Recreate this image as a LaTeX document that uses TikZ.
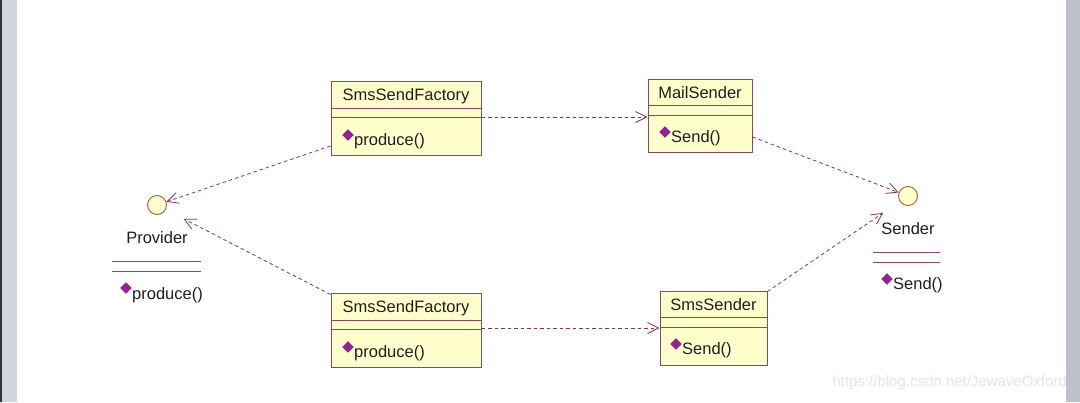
\documentclass[tikz,border=0pt]{standalone}
\usepackage{fontspec}
\setmainfont{Liberation Sans}
\usetikzlibrary{arrows.meta,calc}
\definecolor{boxfill}{HTML}{FFFFCC}
\definecolor{boxline}{HTML}{8A4A58}
\definecolor{dep}{HTML}{8A2D60}
\definecolor{opmark}{HTML}{9A1E9A}
\definecolor{strip}{HTML}{D3D6DE}
\definecolor{txt}{HTML}{1E1E1E}
\tikzset{
  cls/.style={draw=boxline, fill=boxfill, line width=1pt, inner sep=0pt},
  ifc/.style={circle, draw=boxline!70!orange, fill=boxfill, line width=0.9pt, minimum size=19pt, inner sep=0pt},
  divline/.style={draw=boxline, line width=1pt},
  lbl/.style={text=txt, font=\fontsize{16.5}{19}\selectfont, inner sep=0pt},
  oplbl/.style={lbl, anchor=west},
  opmk/.style={fill=opmark, draw=opmark!70!black, line width=0.3pt, rotate=45, minimum size=7.5pt, inner sep=0pt},
  depend/.style={draw=dep, line width=0.8pt, dash pattern=on 3.5pt off 3pt, -{Straight Barb[length=11pt,width=11pt,line width=0.8pt]}},
}
\begin{document}
\begin{tikzpicture}[x=1pt,y=-1pt]
\useasboundingbox (0,0) rectangle (1080,402);
\fill[white] (0,0) rectangle (1080,402);
% window strips
\fill[strip] (0,0) rectangle (17,402);
\fill[black!80] (0,0) rectangle (1.5,402);
\fill[strip!90!black] (1066,0) rectangle (1080,402);

% classes
\node[cls, minimum width=150pt, minimum height=74pt] (b1) at (406,118) {};
\node[cls, minimum width=104pt, minimum height=73pt] (b2) at (700,115.5) {};
\node[cls, minimum width=150pt, minimum height=74pt] (b3) at (406,330) {};
\node[cls, minimum width=107pt, minimum height=74pt] (b4) at (713.5,328) {};

\draw[divline] ($(b1.north west)+(0,28)$) -- ($(b1.north east)+(0,28)$);
\draw[divline] ($(b1.north west)+(0,37)$) -- ($(b1.north east)+(0,37)$);
\draw[divline] ($(b2.north west)+(0,27)$) -- ($(b2.north east)+(0,27)$);
\draw[divline] ($(b2.north west)+(0,37)$) -- ($(b2.north east)+(0,37)$);
\draw[divline] ($(b3.north west)+(0,28)$) -- ($(b3.north east)+(0,28)$);
\draw[divline] ($(b3.north west)+(0,37)$) -- ($(b3.north east)+(0,37)$);
\draw[divline] ($(b4.north west)+(0,27)$) -- ($(b4.north east)+(0,27)$);
\draw[divline] ($(b4.north west)+(0,37)$) -- ($(b4.north east)+(0,37)$);

\node[lbl] (t1) at (406,96) {SmsSendFactory};
\node[lbl] (t2) at (700,93) {MailSender};
\node[lbl] (t3) at (406,308) {SmsSendFactory};
\node[lbl] (t4) at (713.5,305) {SmsSender};

\node[opmk] (m1) at (348,135) {};
\node[oplbl] (o1) at (354,141) {produce()};
\node[opmk] (m2) at (665,132) {};
\node[oplbl] (o2) at (671,138) {Send()};
\node[opmk] (m3) at (348,347) {};
\node[oplbl] (o3) at (354,353) {produce()};
\node[opmk] (m4) at (676,344) {};
\node[oplbl] (o4) at (682,350) {Send()};

% interfaces
\node[ifc] (prov) at (157,205) {};
\node[lbl] (pl) at (157,238) {Provider};
\draw[divline] (112,261) coordinate (p1a) -- (201,261) coordinate (p1b);
\draw[divline] (112,271) coordinate (p2a) -- (201,271) coordinate (p2b);
\node[opmk] (pm) at (126,288) {};
\node[oplbl] (po) at (132,295) {produce()};

\node[ifc] (send) at (908,196) {};
\node[lbl] (sl) at (908,229) {Sender};
\draw[divline] (873,252) coordinate (s1a) -- (940,252) coordinate (s1b);
\draw[divline] (873,262) coordinate (s2a) -- (940,262) coordinate (s2b);
\node[opmk] (sm) at (887,279) {};
\node[oplbl] (so) at (893,285) {Send()};

% dependencies
\draw[depend] ([yshift=-28pt]b1.west) -- (prov);
\draw[depend, shorten >=30pt] ([yshift=-2pt]b3.north west) -- (prov.center);
\draw[depend] ([yshift=1pt]b1.east) -- ([yshift=1pt]b1.east -| b2.west);
\draw[depend] ([yshift=2pt]b3.east) -- ([yshift=2pt]b3.east -| b4.west);
\draw[depend] ([yshift=-21.5pt]b2.east) -- (send);
\draw[depend, shorten >=30pt] ([yshift=-1pt]b4.north east) -- (send.center);

% watermark
\node[text=black!10, font=\fontsize{15}{18}\selectfont, anchor=east, inner sep=0pt] (wm) at (1067,383) {https://blog.csdn.net/JewaveOxford};
\end{tikzpicture}
\end{document}
